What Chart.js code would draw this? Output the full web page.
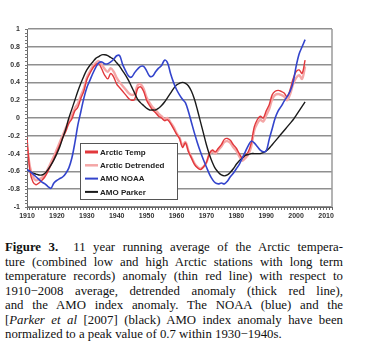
<!DOCTYPE html>
<html>
<head>
<meta charset="utf-8">
<script src="https://cdn.jsdelivr.net/npm/chart.js@4/dist/chart.umd.min.js"></script>
<style>
  html, body { margin: 0; padding: 0; background: #fff; }
  body { width: 367px; height: 359px; position: relative; overflow: hidden; }
  #wrap { position: absolute; left: 0; top: 0; width: 367px; height: 232px; }
  #cap { position: absolute; left: 5px; top: 240px; width: 338px;
         font-family: "Liberation Serif", "Times New Roman", serif; font-size: 12.8px;
         line-height: 14.5px; color: #111; }
  #cap div { text-align: justify; text-align-last: justify; white-space: nowrap; }
  #cap div.last { text-align-last: left; }
</style>
</head>
<body>
<div id="wrap"><canvas id="c" width="367" height="232"></canvas></div>
<div id="cap">
  <div><b>Figure 3.</b>&nbsp; 11 year running average of the Arctic tempera-</div>
  <div>ture (combined low and high Arctic stations with long term</div>
  <div>temperature records) anomaly (thin red line) with respect to</div>
  <div>1910−2008 average, detrended anomaly (thick red line),</div>
  <div>and the AMO index anomaly. The NOAA (blue) and the</div>
  <div>[<i>Parker et al</i> [2007] (black) AMO index anomaly have been</div>
  <div class="last">normalized to a peak value of 0.7 within 1930−1940s.</div>
</div>
<script>
const years = [];
for (let y = 1910; y <= 2003; y++) years.push(y);

const seriesNames = ["Arctic Temp", "Arctic Detrended", "AMO NOAA", "AMO Parker"];

const arcticTemp = [
 -0.22,-0.60,-0.72,-0.75,-0.73,-0.70,-0.66,-0.60,-0.53,-0.46,
 -0.38,-0.30,-0.22,-0.15,-0.06,-0.01,0.08,0.12,0.22,0.30,
 0.43,0.50,0.56,0.60,0.61,0.55,0.48,0.44,0.50,0.46,
 0.38,0.34,0.30,0.26,0.22,0.20,0.21,0.33,0.35,0.30,
 0.20,0.14,0.09,0.06,0.02,0.00,-0.03,-0.02,-0.06,-0.12,
 -0.18,-0.23,-0.33,-0.28,-0.38,-0.45,-0.52,-0.56,-0.58,-0.55,
 -0.50,-0.40,-0.36,-0.38,-0.34,-0.30,-0.24,-0.23,-0.25,-0.30,
 -0.34,-0.40,-0.45,-0.42,-0.38,-0.28,-0.10,-0.02,0.02,0.00,
 0.08,0.15,0.26,0.30,0.31,0.30,0.28,0.24,0.32,0.44,
 0.52,0.54,0.50,0.65
];

const arcticDetrended = [
 -0.32,-0.55,-0.66,-0.70,-0.69,-0.67,-0.63,-0.57,-0.50,-0.43,
 -0.35,-0.27,-0.19,-0.11,-0.03,0.03,0.11,0.16,0.25,0.33,
 0.45,0.52,0.58,0.62,0.64,0.60,0.55,0.52,0.56,0.52,
 0.45,0.40,0.36,0.32,0.28,0.26,0.27,0.37,0.38,0.33,
 0.23,0.17,0.12,0.09,0.05,0.02,-0.01,0.00,-0.05,-0.10,
 -0.17,-0.22,-0.31,-0.27,-0.37,-0.44,-0.51,-0.55,-0.57,-0.55,
 -0.50,-0.41,-0.38,-0.40,-0.36,-0.32,-0.27,-0.26,-0.28,-0.33,
 -0.37,-0.43,-0.48,-0.45,-0.41,-0.32,-0.14,-0.06,-0.02,-0.04,
 0.03,0.10,0.21,0.26,0.27,0.26,0.24,0.20,0.27,0.38,
 0.45,0.48,0.44,0.58
];

const amoNOAA = [
 -0.58,-0.60,-0.63,-0.66,-0.69,-0.72,-0.74,-0.77,-0.79,-0.73,
 -0.70,-0.68,-0.66,-0.62,-0.56,-0.45,-0.28,-0.08,0.07,0.22,
 0.34,0.42,0.50,0.57,0.62,0.63,0.61,0.61,0.63,0.66,
 0.70,0.70,0.60,0.53,0.47,0.46,0.51,0.55,0.58,0.58,
 0.53,0.47,0.47,0.52,0.56,0.59,0.65,0.62,0.50,0.40,
 0.32,0.26,0.21,0.17,0.07,-0.05,-0.17,-0.28,-0.38,-0.47,
 -0.55,-0.63,-0.69,-0.73,-0.74,-0.73,-0.74,-0.71,-0.66,-0.62,
 -0.57,-0.52,-0.45,-0.38,-0.31,-0.26,-0.28,-0.32,-0.36,-0.38,
 -0.37,-0.24,-0.12,0.00,0.08,0.13,0.19,0.24,0.30,0.40,
 0.58,0.72,0.80,0.88
];

const amoParker = [
 -0.58,-0.60,-0.62,-0.63,-0.64,-0.64,-0.62,-0.58,-0.53,-0.47,
 -0.40,-0.32,-0.22,-0.12,0.00,0.10,0.20,0.30,0.39,0.47,
 0.54,0.59,0.63,0.67,0.69,0.71,0.71,0.70,0.68,0.66,
 0.62,0.58,0.53,0.48,0.42,0.35,0.28,0.21,0.17,0.14,
 0.11,0.09,0.09,0.09,0.11,0.14,0.18,0.23,0.28,0.33,
 0.37,0.39,0.40,0.39,0.36,0.30,0.21,0.09,-0.04,-0.17,
 -0.30,-0.41,-0.50,-0.57,-0.61,-0.64,-0.65,-0.64,-0.61,-0.57,
 -0.52,-0.48,-0.45,-0.42,-0.41,-0.40,-0.40,-0.40,-0.40,-0.39,
 -0.37,-0.34,-0.30,-0.26,-0.22,-0.18,-0.14,-0.10,-0.06,-0.02,
 0.03,0.08,0.13,0.18
];

const xTickYears = [1910,1920,1930,1940,1950,1960,1970,1980,1990,2000,2010];
const yTickValues = [1,0.8,0.6,0.4,0.2,0,-0.2,-0.4,-0.6,-0.8,-1];

function pts(arr) { return years.map((y, i) => ({ x: y, y: arr[i] })); }

const legendBox = {
  id: 'legendBox',
  afterDatasetsDraw(chart) {
    const ctx = chart.ctx;
    const ca = chart.chartArea;
    const ys = chart.scales.y;
    ctx.save();
    ctx.strokeStyle = '#9a9a9a'; ctx.lineWidth = 1.5;
    ctx.beginPath(); ctx.moveTo(ca.right, ca.top); ctx.lineTo(ca.right, ca.bottom); ctx.stroke();
    ctx.strokeStyle = '#777'; ctx.lineWidth = 1;
    for (let v = -1; v <= 1.0001; v += 0.04) {
      const py = Math.round(ys.getPixelForValue(v)) + 0.5;
      ctx.beginPath(); ctx.moveTo(ca.left - 2, py); ctx.lineTo(ca.left + 1, py); ctx.stroke();
    }
    const bx = 80, by = 143, bw = 97, bh = 56;
    ctx.fillStyle = '#fff';
    ctx.fillRect(bx, by, bw, bh);
    ctx.strokeStyle = '#555'; ctx.lineWidth = 1;
    ctx.strokeRect(bx + 0.5, by + 0.5, bw, bh);
    ctx.font = 'bold 8px "Liberation Sans", Arial, sans-serif';
    ctx.textBaseline = 'middle';
    chart.data.datasets.forEach((ds, i) => {
      const ly = by + 9 + i * 13.3;
      ctx.strokeStyle = ds.borderColor;
      ctx.lineWidth = ds.legendWidth;
      ctx.beginPath(); ctx.moveTo(bx + 5, ly); ctx.lineTo(bx + 18, ly); ctx.stroke();
      ctx.fillStyle = '#222';
      ctx.fillText(ds.label, bx + 20, ly + 0.5);
    });
    ctx.restore();
  }
};

new Chart(document.getElementById('c'), {
  type: 'line',
  data: {
    datasets: [
      { label: seriesNames[0], data: pts(arcticTemp), borderColor: '#e2383c', borderWidth: 1.4, legendWidth: 3, pointRadius: 0, tension: 0.35, order: 1 },
      { label: seriesNames[1], data: pts(arcticDetrended), borderColor: '#f4a6a6', borderWidth: 2.4, legendWidth: 2.5, pointRadius: 0, tension: 0.35, order: 2 },
      { label: seriesNames[2], data: pts(amoNOAA), borderColor: '#3344cc', borderWidth: 1.6, legendWidth: 2, pointRadius: 0, tension: 0.35, order: 0 },
      { label: seriesNames[3], data: pts(amoParker), borderColor: '#1a1a1a', borderWidth: 1.4, legendWidth: 2, pointRadius: 0, tension: 0.35, order: 0 }
    ]
  },
  options: {
    responsive: false,
    devicePixelRatio: 1,
    animation: false,
    layout: { padding: { top: 29, right: 35, left: 0, bottom: 0 } },
    plugins: { legend: { display: false }, tooltip: { enabled: false } },
    scales: {
      x: {
        type: 'linear', min: 1910, max: 2012,
        afterFit(s) { s.height = 25; },
        afterBuildTicks(s) {
          const t = [];
          for (let y = 1910; y <= 2012; y++) t.push({ value: y });
          s.ticks = t;
        },
        ticks: {
          autoSkip: false, maxRotation: 0, padding: 2,
          color: '#333',
          font: { family: '"Liberation Sans", Arial, sans-serif', size: 7, weight: 'bold' },
          callback: v => xTickYears.includes(v) ? String(v) : ''
        },
        grid: { drawOnChartArea: false, drawTicks: true, tickLength: 3, color: '#666' },
        border: { display: true, color: '#666', width: 1 }
      },
      y: {
        min: -1, max: 1,
        afterFit(s) { s.width = 27; },
        afterBuildTicks(s) { s.ticks = yTickValues.map(v => ({ value: v })); },
        ticks: {
          padding: 7, color: '#333',
          font: { family: '"Liberation Sans", Arial, sans-serif', size: 7, weight: 'bold' },
          callback: v => String(Math.round(v * 10) / 10)
        },
        grid: { color: '#8f8f8f', lineWidth: 1.6, drawTicks: false },
        border: { display: true, color: '#666', width: 1 }
      }
    }
  },
  plugins: [legendBox]
});
</script>
</body>
</html>
